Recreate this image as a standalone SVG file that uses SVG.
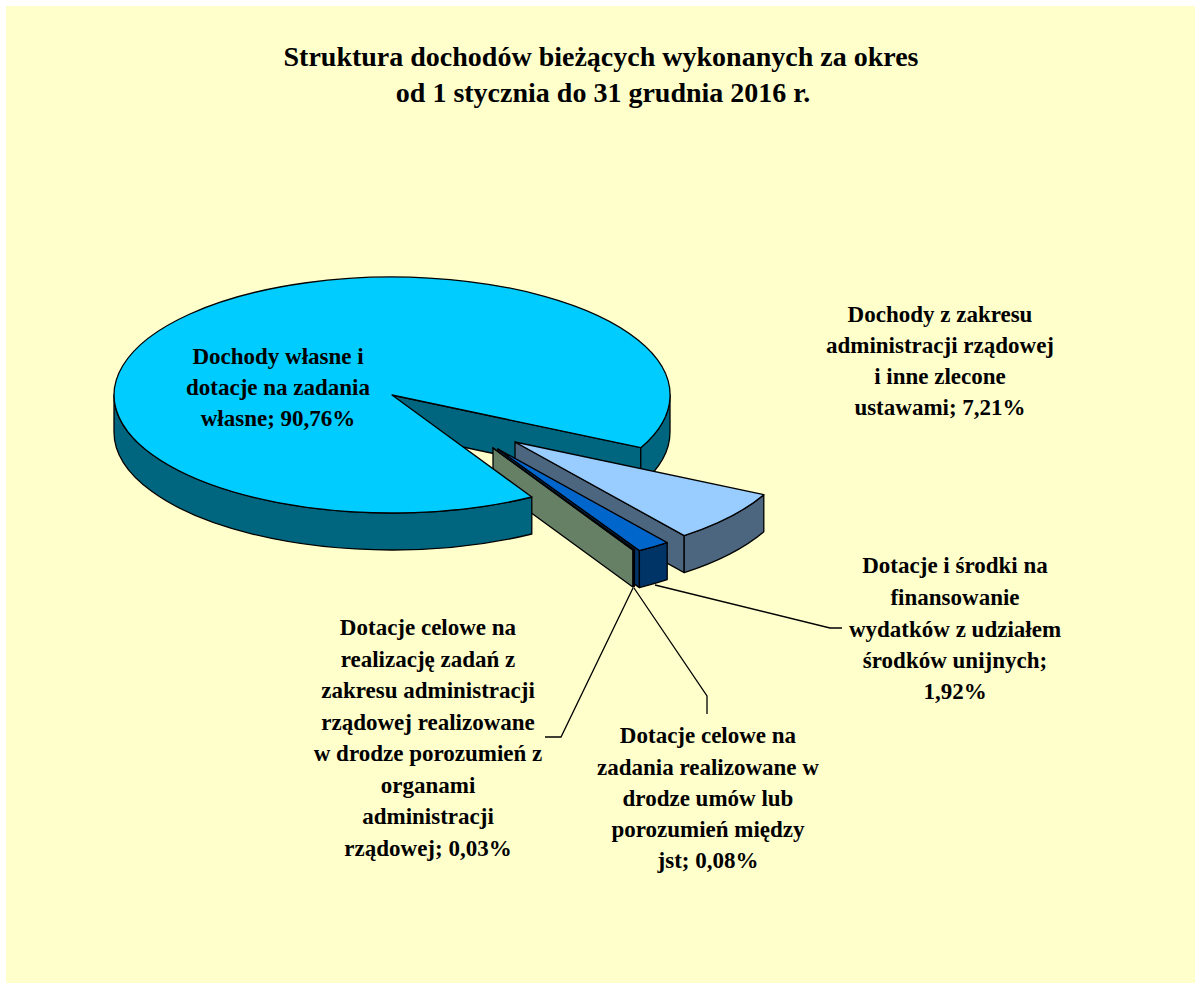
<svg xmlns="http://www.w3.org/2000/svg" width="1195" height="983" viewBox="0 0 1195 983">
<style>
.lbl{font-family:"Liberation Serif","Times New Roman",serif;font-weight:bold;font-size:23px;fill:#000;text-anchor:middle}
.ttl{font-family:"Liberation Serif","Times New Roman",serif;font-weight:bold;font-size:28px;fill:#000;text-anchor:middle}
.f{stroke:#000;stroke-width:1.3;stroke-linejoin:round}
.cyan{fill:#00CCFF}.teal{fill:#006680}
.lb{fill:#99CCFF}.slate{fill:#4D6680}
.bl{fill:#0066CC}.navy{fill:#003366}
.tn{fill:#3366CC}.tnd{fill:#1A3366}
.gr{fill:#CCFFCC}.ol{fill:#668066}
.ld{fill:none;stroke:#000;stroke-width:1.3}
</style>
<rect x="0" y="0" width="1195" height="983" fill="#FFFFFF"/>
<rect x="6" y="6" width="1189" height="977" fill="#FFFFCC"/>
<g id="title">
<text class="ttl" x="601" y="66">Struktura dochodów bieżących wykonanych za okres</text>
<text class="ttl" x="603" y="102">od 1 stycznia do 31 grudnia 2016 r.</text>
</g>
<g id="slice-own-back">
<path class="f teal" d="M392,395 L640.8,447.7 L640.8,484.7 L392,432 Z"/>
<path class="f teal" d="M670,395 A278,118 0 0 1 640.8,447.7 L640.8,484.7 A278,118 0 0 0 670,432 Z"/>
</g>
<g id="slice-7-21">
<path class="f slate" d="M515,442 L684.2,535.6 L684.2,572.6 L515,479 Z"/>
<path class="f slate" d="M763.8,494.7 A278,118 0 0 1 684.2,535.6 L684.2,572.6 A278,118 0 0 0 763.8,531.7 Z"/>
<path class="f lb" d="M515,442 L763.8,494.7 A278,118 0 0 1 684.2,535.6 Z"/>
</g>
<g id="slice-1-92">
<path class="f navy" d="M498,449 L639.4,550.6 L639.4,587.6 L498,486 Z"/>
<path class="f navy" d="M667.2,542.6 A278,118 0 0 1 639.4,550.6 L639.4,587.6 A278,118 0 0 0 667.2,579.6 Z"/>
<path class="f bl" d="M498,449 L667.2,542.6 A278,118 0 0 1 639.4,550.6 Z"/>
</g>
<g id="slice-0-08">
<path class="f tnd" d="M634.4,549.6 L633.3,549.9 L633.3,586.9 L634.4,586.6 Z"/>
<path class="f tn" d="M493,448 L634.4,549.6 L633.3,549.9 Z"/>
</g>
<g id="slice-0-03">
<path class="f ol" d="M493,448 L632.8,550 L632.8,587 L493,485 Z"/>
<path class="f gr" d="M493,448 L633.3,549.9 L632.8,550 Z"/>
</g>
<g id="slice-own">
<path class="f teal" d="M531.8,497 A278,118 0 0 1 114,395 L114,432 A278,118 0 0 0 531.8,534 Z"/>
<path class="f cyan" d="M392,395 L531.8,497 A278,118 0 1 1 640.8,447.7 Z"/>
</g>
<g id="connectors">
<polyline class="ld" points="633,588 561,737 545,737"/>
<polyline class="ld" points="634,588 707,696 707,714"/>
<polyline class="ld" points="655,585 830,628 842,628"/>
</g>
<g id="label-own">
<text class="lbl" x="278" y="364">Dochody własne i</text>
<text class="lbl" x="278" y="395">dotacje na zadania</text>
<text class="lbl" x="278" y="426">własne; 90,76%</text>
</g>
<g id="label-7-21">
<text class="lbl" x="940" y="322">Dochody z zakresu</text>
<text class="lbl" x="940" y="353">administracji rządowej</text>
<text class="lbl" x="940" y="384">i inne zlecone</text>
<text class="lbl" x="940" y="415">ustawami; 7,21%</text>
</g>
<g id="label-1-92">
<text class="lbl" x="955" y="573">Dotacje i środki na</text>
<text class="lbl" x="955" y="605">finansowanie</text>
<text class="lbl" x="955" y="637">wydatków z udziałem</text>
<text class="lbl" x="955" y="668">środków unijnych;</text>
<text class="lbl" x="955" y="699">1,92%</text>
</g>
<g id="label-0-03">
<text class="lbl" x="428" y="635">Dotacje celowe na</text>
<text class="lbl" x="428" y="667">realizację zadań z</text>
<text class="lbl" x="428" y="698">zakresu administracji</text>
<text class="lbl" x="428" y="730">rządowej realizowane</text>
<text class="lbl" x="428" y="761">w drodze porozumień z</text>
<text class="lbl" x="428" y="793">organami</text>
<text class="lbl" x="428" y="824">administracji</text>
<text class="lbl" x="428" y="856">rządowej; 0,03%</text>
</g>
<g id="label-0-08">
<text class="lbl" x="708" y="743">Dotacje celowe na</text>
<text class="lbl" x="708" y="775">zadania realizowane w</text>
<text class="lbl" x="708" y="806">drodze umów lub</text>
<text class="lbl" x="708" y="837">porozumień między</text>
<text class="lbl" x="708" y="868">jst; 0,08%</text>
</g>
</svg>
